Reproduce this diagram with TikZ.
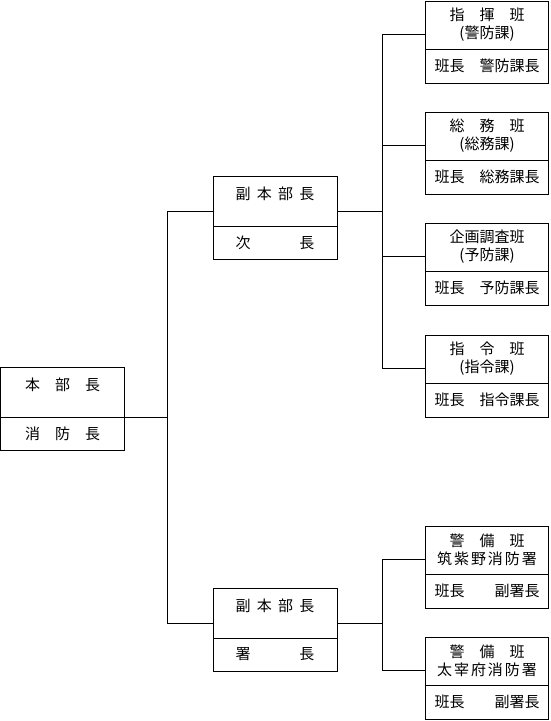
\documentclass[tikz,border=0pt]{standalone}
\usepackage{fontspec}
\newfontfamily\jp{Noto Sans CJK JP}
\usetikzlibrary{positioning}

\begin{document}
\begin{tikzpicture}[x=1pt,y=-1pt,
  link/.style={line width=0.8pt},
  head/.style={draw,line width=0.8pt,outer sep=0pt,minimum width=123pt,minimum height=48pt,
    align=center,font=\jp\fontsize{15}{18}\selectfont},
  post/.style={draw,line width=0.8pt,outer sep=0pt,minimum width=123pt,minimum height=34pt,
    align=center,font=\jp\fontsize{15}{18}\selectfont},
  lift/.style={text depth=16pt}]
  \useasboundingbox (0,0) rectangle (550,721);
  % Headquarters chief
  \node[head,lift,minimum width=124pt,minimum height=50pt,anchor=north west] (hq) at (0.5,367) {本　部　長};
  \node[post,minimum width=124pt,minimum height=33pt,below=0pt of hq] (hq-b) {消　防　長};
  % Deputy chiefs
  \node[head,lift,minimum width=124pt,minimum height=50pt,anchor=north west] (v1) at (213,176.5) {副\hspace{0.42em}本\hspace{0.42em}部\hspace{0.42em}長};
  \node[post,minimum width=124pt,minimum height=33pt,below=0pt of v1] (v1-b) {次\hspace{3.26em}長};
  \node[head,lift,minimum width=124pt,minimum height=50pt,anchor=north west] (v2) at (213,588) {副\hspace{0.42em}本\hspace{0.42em}部\hspace{0.42em}長};
  \node[post,minimum width=124pt,minimum height=33pt,below=0pt of v2] (v2-b) {署\hspace{3.26em}長};
  % Junctions
  \coordinate (busA) at (167,417);
  \coordinate (busB) at (382,211.5);
  \coordinate (busC) at (382,623);
  \draw[link] (hq.south east) -- (busA);
  \draw[link] ([yshift=15pt]v1.south west) -| (busA);
  \draw[link] ([yshift=15pt]v2.south west) -| (busA);
  \draw[link] ([yshift=15pt]v1.south east) -- (busB);
  \draw[link] ([yshift=15pt]v2.south east) -- (busC);
  % Teams under the first deputy
  \foreach \nm/\ty/\title/\chief in {
    cmd/1/{指　揮　班\\(警防課)}/{班長　警防課長},
    gen/112/{総　務　班\\(総務課)}/{班長　総務課長},
    plan/223/{企画調査班\\(予防課)}/{班長　予防課長},
    ord/335/{指　令　班\\(指令課)}/{班長　指令課長}}{
    \node[head,anchor=north west] (\nm) at (425.5,\ty) {\title};
    \node[post,below=0pt of \nm] (\nm-b) {\chief};
    \draw[link] ([yshift=15pt]\nm.south west) -| (busB);
  }
  % Guard teams under the second deputy
  \foreach \nm/\ty/\station in {
    grd1/526/筑紫野消防署,
    grd2/637/太宰府消防署}{
    \node[head,anchor=north west] (\nm) at (425.5,\ty) {警　備　班\\{\addfontfeature{LetterSpace=13}\station}};
    \node[post,below=0pt of \nm] (\nm-b) {班長　　副署長};
    \draw[link] ([yshift=15pt]\nm.south west) -| (busC);
  }
\end{tikzpicture}
\end{document}
